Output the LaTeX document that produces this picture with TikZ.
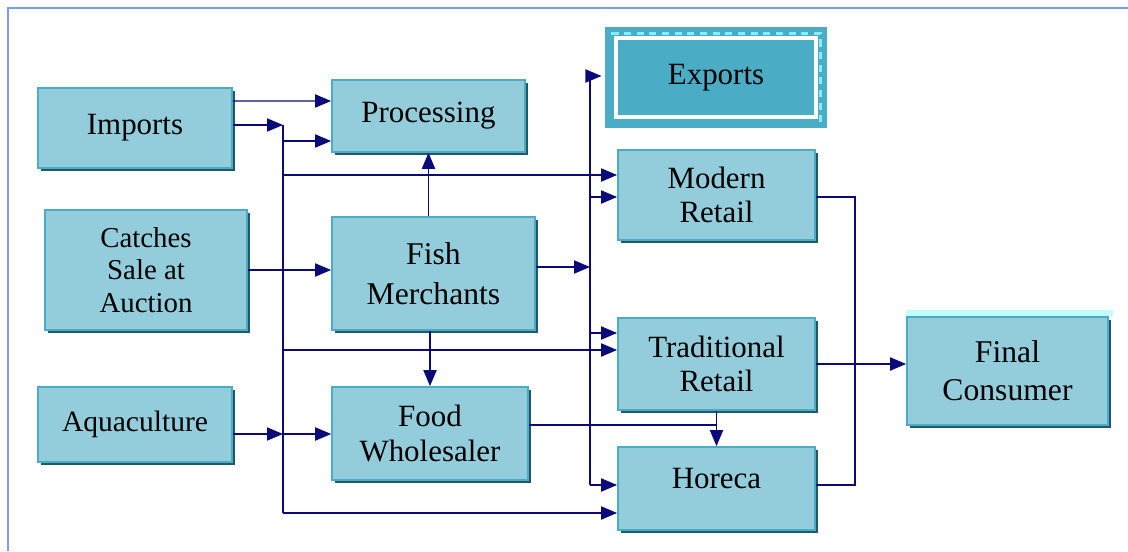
\documentclass[tikz,border=0pt]{standalone}
\usepackage{fontspec}
\setmainfont{Liberation Serif}
\usepackage{tikz}
\usetikzlibrary{arrows.meta,shadows}

\definecolor{boxfill}{HTML}{93CDDC}
\definecolor{boxedge}{HTML}{4BACC6}
\definecolor{boxshade}{HTML}{215967}
\definecolor{flowblue}{HTML}{0A0A78}
\definecolor{framblue}{HTML}{7F9CF2}
\definecolor{dashcyan}{HTML}{7FF0FF}
\definecolor{glowcyan}{HTML}{C4FFFF}

\tikzset{
  stagebox/.style={draw=boxedge,line width=1.1pt,fill=boxfill,align=center,
    font=\fontsize{22pt}{24pt}\selectfont,inner sep=2pt,
    drop shadow={shadow xshift=0.075cm,shadow yshift=-0.075cm,fill=boxshade,opacity=1}},
  flowline/.style={draw=flowblue,line width=0.9pt},
  flow/.style={flowline,-{Triangle[length=0.4cm,width=0.33cm]}},
}

\begin{document}
\begin{tikzpicture}[x=0.025cm,y=-0.025cm]
  \useasboundingbox (0,0) rectangle (1128,551);
  % Frame
  \draw[framblue,line width=2pt] (8,551) -- (8,8) -- (1128,8);

  % Stages
  \node[stagebox,minimum width=4.85cm,minimum height=2cm] (imp) at (135,128) {Imports};
  \node[stagebox,minimum width=4.83cm,minimum height=1.8cm] (proc) at (428.5,116) {Processing};
  \node[stagebox,minimum width=5.05cm,minimum height=3cm,font=\fontsize{20.5pt}{23pt}\selectfont]
    (catch) at (146,270) {Catches\\Sale at\\Auction};
  \node[stagebox,minimum width=5.08cm,minimum height=2.83cm,font=\fontsize{22.5pt}{28pt}\selectfont]
    (fish) at (433.5,273.5) {Fish\\Merchants};
  \node[stagebox,minimum width=4.85cm,minimum height=1.88cm,font=\fontsize{21pt}{24pt}\selectfont]
    (aqua) at (135,424.5) {Aquaculture};
  \node[stagebox,minimum width=4.9cm,minimum height=2.33cm,font=\fontsize{22pt}{25pt}\selectfont]
    (food) at (430,433.5) {Food\\Wholesaler};
  \node[stagebox,minimum width=4.93cm,minimum height=2.25cm] (modern) at (716.5,195) {Modern\\Retail};
  \node[stagebox,minimum width=4.93cm,minimum height=2.3cm] (trad) at (716.5,364) {Traditional\\Retail};
  \node[stagebox,minimum width=4.93cm,minimum height=2.08cm] (horeca) at (716.5,488.5)
    {\raisebox{0.5cm}{Horeca}};
  \node[stagebox,minimum width=5.03cm,minimum height=2.7cm,font=\fontsize{22.5pt}{27pt}\selectfont]
    (final) at (1007.5,371) {Final\\Consumer};
  \fill[glowcyan] ([yshift=0.15cm]final.north west) rectangle ([xshift=0.1cm]final.north east);

  % Exports, framed
  \node[fill=boxedge,draw=boxedge,line width=0.225cm,double=white,double distance=0.09cm,
    minimum width=5cm,minimum height=1.98cm,font=\fontsize{22pt}{24pt}\selectfont]
    (exp) at (716,77.5) {Exports};
  \draw[dashcyan,line width=1.6pt,dash pattern=on 5pt off 4pt]
    (exp.north west) -- (exp.north east) -- (exp.south east);

  % Bus points
  \coordinate (bA1) at (283,125);
  \coordinate (bA2) at (283,141);
  \coordinate (bA3) at (283,175);
  \coordinate (bA4) at (283,350);
  \coordinate (bA5) at (283,434);
  \coordinate (bA6) at (283,513);
  \coordinate (bB1) at (590,76);
  \coordinate (bB2) at (590,197);
  \coordinate (bB3) at (590,267);
  \coordinate (bB4) at (590,333);
  \coordinate (bB5) at (590,485);
  \coordinate (rC1) at (855,197);
  \coordinate (rC2) at (855,485);
  \coordinate (wj) at (716,425);

  % Left bus
  \draw[flow] ([yshift=0.675cm]imp.east) -- ([yshift=0.375cm]proc.west);
  \draw[flow] (imp.east |- bA1) -- (bA1);
  \draw[flowline] (bA1) -- (bA6);
  \draw[flow] (bA2) -- (proc.west |- bA2);
  \draw[flow] (bA3) -- (modern.west |- bA3);
  \draw[flow] (bA4) -- (trad.west |- bA4);
  \draw[flow] (aqua.east |- bA5) -- (bA5);
  \draw[flow] (bA5) -- (food.west |- bA5);
  \draw[flow] (bA6) -- (horeca.west |- bA6);
  \draw[flow] (catch.east) -- (fish.west |- catch.east);

  % Fish merchants
  \draw[flow] (proc.south |- fish.north) -- (proc.south);
  \draw[flow] (food.north |- fish.south) -- (food.north);
  \draw[flow] (fish.east |- bB3) -- (bB3);

  % Right bus
  \draw[flowline] (bB1) -- (bB5);
  \draw[flow,shorten >=0.25cm] (bB1) -- (exp.west |- bB1);
  \draw[flow] (bB2) -- (modern.west |- bB2);
  \draw[flow] (bB4) -- (trad.west |- bB4);
  \draw[flow] (bB5) -- (horeca.west |- bB5);

  % Retail to consumer
  \draw[flowline] (food.east |- wj) -- (wj);
  \draw[flow] (trad.south) -- (horeca.north);
  \draw[flowline] (modern.east |- rC1) -- (rC1) -- (rC2) -- (horeca.east |- rC2);
  \draw[flow] (trad.east) -- (final.west |- trad.east);
\end{tikzpicture}
\end{document}
